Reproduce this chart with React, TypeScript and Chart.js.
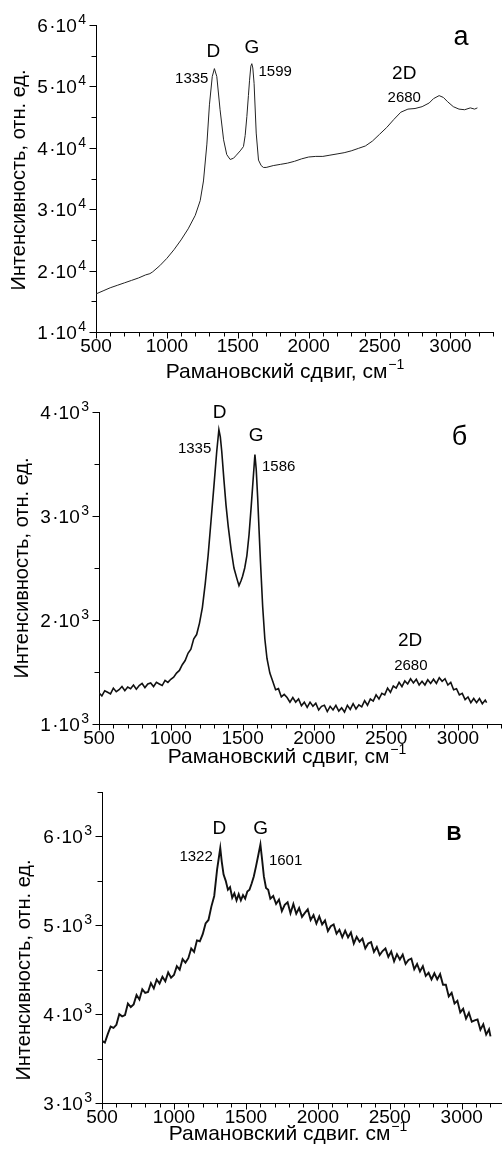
import React, { useEffect, useRef } from 'react';
import { Chart, registerables } from 'chart.js';

Chart.register(...registerables);

const FONT = "'Liberation Sans', Arial, Helvetica, sans-serif";

// ---------- shared axis text ----------
const xTickValues = [500, 1000, 1500, 2000, 2500, 3000];
const xTickLabels = ['500', '1000', '1500', '2000', '2500', '3000'];
const xTitleMain = 'Рамановский сдвиг, см';
const xTitleMainC = 'Рамановский сдвиг. см';
const xTitleSup = '−1';
const yTitleText = 'Интенсивность, отн. ед.';

// ---------- panel а ----------
const shiftA = [
  500, 550, 600, 650, 700, 750, 800, 850, 880, 900, 950, 1000, 1050, 1100, 1150, 1200,
  1235, 1258, 1282, 1300, 1320, 1335, 1352, 1375, 1400, 1422, 1446, 1470, 1490, 1517,
  1540, 1552, 1564, 1575, 1583, 1592, 1599, 1606, 1615, 1630, 1646, 1665, 1681, 1700,
  1750, 1800, 1850, 1900, 1950, 2000, 2050, 2100, 2150, 2200, 2250, 2300, 2350, 2400,
  2450, 2500, 2550, 2600, 2650, 2700, 2750, 2800, 2850, 2880, 2920, 2950, 2980, 3020,
  3060, 3100, 3140, 3170, 3190,
];
const intensityA = [
  16200, 16700, 17200, 17600, 18000, 18400, 18800, 19300, 19500, 19800, 20800, 22000, 23400, 25000, 26800, 29000,
  31400, 34600, 40600, 47000, 51600, 52900, 51600, 46200, 41300, 38900, 38100, 38300, 38800, 39500,
  40200, 42000, 45100, 48500, 51000, 53300, 53700, 53000, 50500, 42400, 38000, 37100, 36800, 36800,
  37100, 37300, 37500, 37800, 38200, 38500, 38600, 38600, 38800, 39000, 39200, 39500, 39900, 40300,
  41100, 42200, 43300, 44600, 45800, 46300, 46400, 46700, 47300, 48000, 48500, 48200, 47500, 46700,
  46300, 46200, 46500, 46300, 46500,
];
const yTickValuesA = [10000, 20000, 30000, 40000, 50000, 60000];
const yTickMantissaA = ['1', '2', '3', '4', '5', '6'];
const yTickExpA = '4';

// ---------- panel б ----------
const shiftB = [
  500, 520, 540, 560, 580, 600, 620, 640, 660, 680, 700, 720, 740, 760, 780, 800, 820, 840, 860, 880,
  900, 920, 940, 960, 980, 1000, 1020, 1040, 1060, 1080, 1100, 1120, 1140, 1160, 1180, 1200, 1220, 1240,
  1260, 1280, 1300, 1310, 1320, 1335, 1345, 1355, 1370, 1385, 1400, 1420, 1440, 1460, 1475, 1490, 1500,
  1515, 1530, 1545, 1560, 1575, 1586, 1595, 1605, 1615, 1625, 1640, 1655, 1670, 1690, 1710, 1730, 1750,
  1770, 1790, 1810, 1830, 1850, 1870, 1890, 1910, 1930, 1950, 1970, 1990, 2010, 2030, 2050, 2070, 2090,
  2110, 2130, 2150, 2170, 2190, 2210, 2230, 2250, 2270, 2290, 2310, 2330, 2350, 2370, 2390, 2410, 2430,
  2450, 2470, 2490, 2510, 2530, 2550, 2570, 2590, 2610, 2630, 2650, 2670, 2690, 2710, 2730, 2750, 2770,
  2790, 2810, 2830, 2850, 2870, 2890, 2910, 2930, 2950, 2970, 2990, 3010, 3030, 3050, 3070, 3090, 3110,
  3130, 3150, 3170, 3190, 3200,
];
const intensityB = [
  1300, 1270, 1320, 1305, 1290, 1345, 1310, 1330, 1360, 1320, 1355, 1340, 1375, 1335, 1370, 1390, 1350, 1385, 1395, 1360,
  1400, 1385, 1370, 1420, 1400, 1430, 1450, 1490, 1515, 1570, 1610, 1680, 1720, 1820, 1860, 1970, 2120, 2350,
  2620, 2950, 3280, 3450, 3620, 3830, 3760, 3620, 3350, 3100, 2900, 2680, 2500, 2400, 2330, 2380, 2420,
  2500, 2620, 2820, 3090, 3380, 3590, 3450, 3180, 2860, 2550, 2130, 1820, 1630, 1490, 1410, 1330, 1340,
  1260, 1285, 1255, 1210, 1255, 1210, 1240, 1175, 1210, 1160, 1210, 1170, 1200, 1135, 1170, 1180, 1120,
  1170, 1135, 1180, 1125, 1155, 1115, 1180, 1140, 1195, 1145, 1185, 1165, 1225, 1180, 1240, 1220, 1280,
  1240, 1295, 1280, 1345, 1305, 1365, 1345, 1400, 1360, 1415, 1385, 1435, 1395, 1430, 1375, 1410, 1375,
  1425, 1390, 1430, 1390, 1445, 1410, 1435, 1375, 1400, 1330, 1340, 1280, 1295, 1235, 1260, 1205, 1245,
  1205, 1245, 1195, 1230, 1205,
];
const yTickValuesB = [1000, 2000, 3000, 4000];
const yTickMantissaB = ['1', '2', '3', '4'];
const yTickExpB = '3';

// ---------- panel в ----------
const shiftC = [
  500, 520, 540, 560, 580, 600, 620, 640, 660, 680, 700, 720, 740, 760, 780, 800, 820, 840, 860, 880,
  900, 920, 940, 960, 980, 1000, 1020, 1040, 1060, 1080, 1100, 1120, 1140, 1160, 1180, 1200, 1220, 1240,
  1260, 1280, 1300, 1312, 1322, 1332, 1345, 1360, 1375, 1390, 1405, 1420, 1435, 1450, 1465, 1480, 1495,
  1510, 1525, 1540, 1555, 1570, 1585, 1601, 1612, 1625, 1640, 1655, 1670, 1690, 1710, 1730, 1750, 1770,
  1790, 1810, 1830, 1850, 1870, 1890, 1910, 1930, 1950, 1970, 1990, 2010, 2030, 2050, 2070, 2090, 2110,
  2130, 2150, 2170, 2190, 2210, 2230, 2250, 2270, 2290, 2310, 2330, 2350, 2370, 2390, 2410, 2430, 2450,
  2470, 2490, 2510, 2530, 2550, 2570, 2590, 2610, 2630, 2650, 2670, 2690, 2710, 2730, 2750, 2770, 2790,
  2810, 2830, 2850, 2870, 2890, 2910, 2930, 2950, 2970, 2990, 3010, 3030, 3050, 3070, 3090, 3110, 3130,
  3150, 3170, 3190, 3200,
];
const intensityC = [
  3700, 3680, 3775, 3860, 3845, 3880, 4000, 3975, 3990, 4120, 4080, 4110, 4215, 4165, 4280, 4240, 4250, 4350, 4290, 4390,
  4345, 4420, 4370, 4470, 4410, 4440, 4540, 4500, 4620, 4580, 4630, 4740, 4700, 4830, 4820, 4900, 5020, 5060,
  5210, 5330, 5630, 5760, 5870, 5720, 5570, 5500, 5400, 5430, 5310, 5360, 5280, 5350, 5280, 5340, 5300,
  5380, 5400, 5470, 5550, 5660, 5780, 5910, 5750, 5550, 5420, 5400, 5300, 5330, 5240, 5290, 5160, 5230,
  5260, 5135, 5240, 5130, 5195, 5095, 5140, 5180, 5060, 5115, 5020, 5100, 5010, 5055, 4935, 4990, 5010,
  4905, 4950, 4865, 4940, 4865, 4920, 4795, 4870, 4815, 4850, 4740, 4795, 4810, 4700, 4755, 4665, 4710,
  4740, 4645, 4705, 4595, 4675, 4615, 4670, 4565, 4610, 4625, 4505, 4565, 4480, 4540, 4430, 4465, 4390,
  4460, 4390, 4450, 4330, 4330, 4200, 4240, 4120, 4150, 4020, 4060, 3950, 4015, 3915, 3930, 3940, 3825,
  3885, 3770, 3830, 3750,
];
const yTickValuesC = [3000, 4000, 5000, 6000];
const yTickMantissaC = ['3', '4', '5', '6'];
const yTickExpC = '3';

// ---------- peak labels (text + anchor in data units) ----------
type Note = { text: string; x: number; y: number; align: CanvasTextAlign; kind: 'peak' | 'num' | 'panel' | 'panelBold' };

const notesA: Note[] = [
  { text: 'D', x: 1328, y: 55660, align: 'center', kind: 'peak' },
  { text: 'G', x: 1599, y: 56300, align: 'center', kind: 'peak' },
  { text: '1335', x: 1293, y: 51160, align: 'right', kind: 'num' },
  { text: '1599', x: 1646, y: 52400, align: 'left', kind: 'num' },
  { text: '2D', x: 2674, y: 52100, align: 'center', kind: 'peak' },
  { text: '2680', x: 2674, y: 48200, align: 'center', kind: 'num' },
  { text: 'а', x: 3074, y: 58000, align: 'center', kind: 'panel' },
];
const notesB: Note[] = [
  { text: 'D', x: 1340, y: 3990, align: 'center', kind: 'peak' },
  { text: 'G', x: 1595, y: 3770, align: 'center', kind: 'peak' },
  { text: '1335', x: 1282, y: 3650, align: 'right', kind: 'num' },
  { text: '1586', x: 1635, y: 3470, align: 'left', kind: 'num' },
  { text: '2D', x: 2667, y: 1800, align: 'center', kind: 'peak' },
  { text: '2680', x: 2672, y: 1560, align: 'center', kind: 'num' },
  { text: 'б', x: 3010, y: 3750, align: 'center', kind: 'panel' },
];
const notesC: Note[] = [
  { text: 'D', x: 1316, y: 6086, align: 'center', kind: 'peak' },
  { text: 'G', x: 1602, y: 6086, align: 'center', kind: 'peak' },
  { text: '1322', x: 1270, y: 5775, align: 'right', kind: 'num' },
  { text: '1601', x: 1660, y: 5730, align: 'left', kind: 'num' },
  { text: 'В', x: 2947, y: 6020, align: 'center', kind: 'panelBold' },
];

const noteFont: Record<Note['kind'], string> = {
  peak: `19px ${FONT}`,
  num: `15px ${FONT}`,
  panel: `27px ${FONT}`,
  panelBold: `bold 21px ${FONT}`,
};

type PanelSpec = {
  shift: number[];
  values: number[];
  top: number;
  height: number;
  left: number;
  right: number;
  plotTop: number;
  plotBottom: number;
  xMax: number;
  yMin: number;
  yMax: number;
  yStep: number;
  yTickValues: number[];
  yTickMantissa: string[];
  yTickExp: string;
  notes: Note[];
  xTitle: string;
  xTitlePos: [number, number];
  yTitlePos: [number, number];
  lineWidth: number;
  lineColor: string;
};

const panels: PanelSpec[] = [
  {
    shift: shiftA, values: intensityA, top: 0, height: 385, left: 96, right: 493, plotTop: 25, plotBottom: 332,
    xMax: 3300, yMin: 10000, yMax: 60000, yStep: 5000,
    yTickValues: yTickValuesA, yTickMantissa: yTickMantissaA, yTickExp: yTickExpA, notes: notesA,
    xTitle: xTitleMain, xTitlePos: [285, 378], yTitlePos: [19, 180], lineWidth: 1, lineColor: '#222',
  },
  {
    shift: shiftB, values: intensityB, top: 385, height: 385, left: 99, right: 501, plotTop: 27, plotBottom: 339,
    xMax: 3300, yMin: 1000, yMax: 4000, yStep: 500,
    yTickValues: yTickValuesB, yTickMantissa: yTickMantissaB, yTickExp: yTickExpB, notes: notesB,
    xTitle: xTitleMain, xTitlePos: [287, 378], yTitlePos: [22, 183], lineWidth: 1.6, lineColor: '#111',
  },
  {
    shift: shiftC, values: intensityC, top: 770, height: 387, left: 102, right: 502, plotTop: 22, plotBottom: 333,
    xMax: 3280, yMin: 3000, yMax: 6500, yStep: 500,
    yTickValues: yTickValuesC, yTickMantissa: yTickMantissaC, yTickExp: yTickExpC, notes: notesC,
    xTitle: xTitleMainC, xTitlePos: [288, 370], yTitlePos: [24, 200], lineWidth: 1.9, lineColor: '#111',
  },
];

const decorPlugin = {
  id: 'decor',
  afterDraw(chart: any, _args: any, opts: any) {
    const spec: PanelSpec = opts.spec;
    if (!spec) return;
    const ctx: CanvasRenderingContext2D = chart.ctx;
    const xs = chart.scales.x;
    const ys = chart.scales.y;
    const area = chart.chartArea;
    const axisY = Math.round(area.bottom) + 0.5;
    const axisX = Math.round(area.left) + 0.5;
    ctx.save();
    ctx.strokeStyle = '#000';
    ctx.fillStyle = '#000';
    ctx.lineWidth = 1;

    // tick marks on x
    xs.ticks.forEach((t: any) => {
      const px = Math.round(xs.getPixelForValue(t.value)) + 0.5;
      const major = t.value % 500 === 0;
      ctx.beginPath();
      ctx.moveTo(px, axisY);
      ctx.lineTo(px, axisY + (major ? 6 : 4));
      ctx.stroke();
    });
    // tick marks on y
    ys.ticks.forEach((t: any) => {
      const py = Math.round(ys.getPixelForValue(t.value)) + 0.5;
      const major = spec.yTickValues.includes(t.value);
      ctx.beginPath();
      ctx.moveTo(axisX, py);
      ctx.lineTo(axisX - (major ? 7 : 5), py);
      ctx.stroke();
    });

    // x tick labels
    ctx.font = `19px ${FONT}`;
    ctx.textAlign = 'center';
    ctx.textBaseline = 'alphabetic';
    xTickValues.forEach((v, i) => {
      const px = xs.getPixelForValue(v);
      ctx.fillText(xTickLabels[i], px, area.bottom + 20);
    });

    // y tick labels  m·10^e
    const mainFont = `19px ${FONT}`;
    const supFont = `14px ${FONT}`;
    ctx.textAlign = 'left';
    spec.yTickValues.forEach((v, i) => {
      const py = ys.getPixelForValue(v);
      let x = area.left - 10;
      ctx.font = supFont;
      const wSup = ctx.measureText(spec.yTickExp).width;
      x -= wSup;
      ctx.fillText(spec.yTickExp, x, py - 1);
      ctx.font = mainFont;
      const w10 = ctx.measureText('10').width;
      x -= w10 + 1.5;
      ctx.fillText('10', x, py + 7);
      const wDot = ctx.measureText('·').width;
      x -= wDot;
      ctx.fillText('·', x, py + 7);
      const wM = ctx.measureText(spec.yTickMantissa[i]).width;
      x -= wM + 1.5;
      ctx.fillText(spec.yTickMantissa[i], x, py + 7);
    });

    // x title with superscript
    ctx.font = `21px ${FONT}`;
    const wMain = ctx.measureText(spec.xTitle).width;
    ctx.font = `14px ${FONT}`;
    const wS = ctx.measureText(xTitleSup).width;
    const total = wMain + wS + 1;
    const [cx, by] = spec.xTitlePos;
    const sx = cx - total / 2;
    ctx.textAlign = 'left';
    ctx.font = `21px ${FONT}`;
    ctx.fillText(spec.xTitle, sx, by);
    ctx.font = `14px ${FONT}`;
    ctx.fillText(xTitleSup, sx + wMain + 1, by - 9);

    // y title
    ctx.save();
    ctx.translate(spec.yTitlePos[0], spec.yTitlePos[1]);
    ctx.rotate(-Math.PI / 2);
    ctx.font = `20px ${FONT}`;
    ctx.textAlign = 'center';
    ctx.textBaseline = 'middle';
    ctx.fillText(yTitleText, 0, 0);
    ctx.restore();

    // peak labels
    ctx.textBaseline = 'middle';
    spec.notes.forEach((n) => {
      ctx.font = noteFont[n.kind];
      ctx.textAlign = n.align;
      ctx.fillText(n.text, xs.getPixelForValue(n.x), ys.getPixelForValue(n.y));
    });
    ctx.restore();
  },
};

function Panel({ spec }: { spec: PanelSpec }) {
  const ref = useRef<HTMLCanvasElement | null>(null);
  useEffect(() => {
    if (!ref.current) return;
    const chart = new Chart(ref.current, {
      type: 'line',
      data: {
        datasets: [
          {
            data: spec.shift.map((x, i) => ({ x, y: spec.values[i] })),
            borderColor: spec.lineColor,
            borderWidth: spec.lineWidth,
            pointRadius: 0,
            tension: 0,
            fill: false,
          },
        ],
      },
      options: {
        animation: false,
        responsive: false,
        devicePixelRatio: 1,
        events: [],
        layout: { padding: { left: 0, top: spec.plotTop, right: 502 - spec.right, bottom: 0 } },
        plugins: {
          legend: { display: false },
          tooltip: { enabled: false },
          title: { display: false },
          decor: { spec },
        } as any,
        scales: {
          x: {
            type: 'linear',
            min: 500,
            max: spec.xMax,
            ticks: { display: false, stepSize: 100, autoSkip: false, includeBounds: false },
            grid: { display: false },
            border: { display: true, color: '#000', width: 1 },
            afterFit: (s: any) => {
              s.height = spec.height - spec.plotBottom;
            },
          },
          y: {
            type: 'linear',
            min: spec.yMin,
            max: spec.yMax,
            ticks: { display: false, stepSize: spec.yStep, includeBounds: false },
            grid: { display: false },
            border: { display: true, color: '#000', width: 1 },
            afterFit: (s: any) => {
              s.width = spec.left;
            },
          },
        },
      },
      plugins: [decorPlugin],
    });
    return () => chart.destroy();
  }, [spec]);
  return (
    <canvas
      ref={ref}
      width={502}
      height={spec.height}
      style={{ position: 'absolute', left: 0, top: spec.top, width: 502, height: spec.height }}
    />
  );
}

export default function App() {
  return (
    <div style={{ position: 'absolute', left: 0, top: 0, width: 502, height: 1157, background: '#fff' }}>
      {panels.map((p, i) => (
        <Panel key={i} spec={p} />
      ))}
    </div>
  );
}
